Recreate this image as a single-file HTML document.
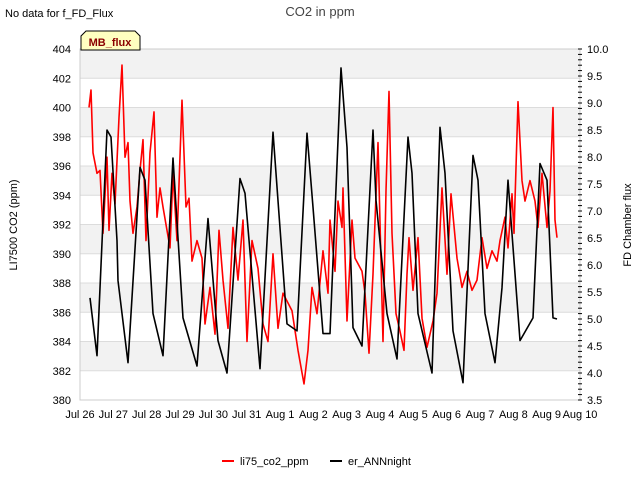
<!DOCTYPE html>
<html><head><meta charset="utf-8"><style>
body{margin:0;background:#fff}
svg{display:block;font-family:"Liberation Sans","DejaVu Sans",sans-serif}
</style></head><body>
<svg id="chart" width="640" height="480" viewBox="0 0 640 480">
<rect width="640" height="480" fill="#fff"/>
<text x="320" y="16" text-anchor="middle" font-size="13" fill="#444">CO2 in ppm</text>
<text x="5" y="17" font-size="11" fill="#000">No data for f_FD_Flux</text>
<g id="bands"></g>
<g id="grid"></g>
<rect x="80" y="49" width="500" height="351" fill="none" stroke="#ccc"/>
<g id="axes"></g>
<g id="series"></g>
<g>
<path d="M81,50 L81,36 L86,31 L135,31 L140,36 L140,50 Z" fill="#ffffc0" stroke="#000" stroke-width="1"/>
<text x="110" y="46" text-anchor="middle" font-size="11" font-weight="bold" fill="#8b0000">MB_flux</text>
</g>
<text transform="translate(17,225) rotate(-90)" text-anchor="middle" font-size="11">LI7500 CO2 (ppm)</text>
<text transform="translate(631,225) rotate(-90)" text-anchor="middle" font-size="11">FD Chamber flux</text>
<g>
<g><line x1="222" y1="461" x2="234" y2="461" stroke="#f00" stroke-width="2"/><text x="240" y="465" font-size="11">li75_co2_ppm</text></g>
<g><line x1="330" y1="461" x2="342" y2="461" stroke="#000" stroke-width="2"/><text x="348" y="465" font-size="11">er_ANNnight</text></g>
</g>
</svg>
<script>
const xLabels=["Jul 26","Jul 27","Jul 28","Jul 29","Jul 30","Jul 31","Aug 1","Aug 2","Aug 3","Aug 4","Aug 5","Aug 6","Aug 7","Aug 8","Aug 9","Aug 10"];
const leftTicks=[380,382,384,386,388,390,392,394,396,398,400,402,404];
const rightTicks=[3.5,4.0,4.5,5.0,5.5,6.0,6.5,7.0,7.5,8.0,8.5,9.0,9.5,10.0];
const redDays=[.27,.33,.39,.51,.60,.69,.81,.87,.96,1.05,1.17,1.26,1.35,1.44,1.50,1.59,1.71,1.80,1.89,1.98,2.10,2.22,2.31,2.40,2.49,2.70,2.79,2.91,3.06,3.18,3.27,3.36,3.51,3.66,3.75,3.90,4.05,4.17,4.29,4.44,4.59,4.74,4.89,5.01,5.16,5.34,5.49,5.64,5.79,5.94,6.09,6.36,6.54,6.72,6.84,6.96,7.11,7.29,7.44,7.50,7.65,7.74,7.86,7.89,8.01,8.16,8.25,8.46,8.55,8.67,8.79,8.94,9.09,9.18,9.27,9.36,9.48,9.60,9.72,9.81,9.87,9.99,10.14,10.26,10.41,10.59,10.71,10.86,11.01,11.13,11.31,11.46,11.61,11.76,11.91,12.06,12.21,12.36,12.51,12.60,12.75,12.84,12.96,13.02,13.14,13.26,13.35,13.50,13.65,13.74,13.86,14.01,14.10,14.19,14.25,14.31];
const redVals=[400.0,401.2,396.9,395.5,395.7,391.4,396.6,391.6,395.5,393.4,399.3,402.9,396.6,397.6,393.6,391.4,393.2,395.7,397.8,390.9,396.9,399.7,392.5,394.5,393.2,390.4,395.5,390.9,400.5,393.2,393.8,389.5,390.9,389.7,385.2,387.7,384.5,391.6,388.2,384.9,391.8,388.2,392.3,384.0,390.9,389.0,385.2,384.0,390.0,384.9,387.3,386.1,383.4,381.1,383.4,387.7,385.9,390.2,387.3,392.3,388.8,393.6,391.8,394.5,385.4,392.3,389.7,388.8,387.3,383.2,388.6,397.6,384.0,394.3,401.1,391.4,385.9,384.7,383.4,388.6,391.1,387.5,391.1,385.6,383.6,385.4,387.3,394.5,388.6,394.1,389.7,387.7,388.8,387.5,388.2,391.1,389.0,390.2,389.5,390.9,392.5,390.4,394.1,391.4,400.4,395.0,393.6,395.0,393.6,391.8,395.5,391.8,394.3,400.0,392.3,391.1];
const annDays=[.30,.51,.81,.93,1.11,1.14,1.44,1.80,1.95,2.19,2.49,2.79,3.09,3.51,3.84,4.14,4.41,4.80,4.95,5.40,5.79,6.21,6.51,6.81,6.99,7.29,7.50,7.83,8.01,8.19,8.46,8.79,8.88,9.21,9.51,9.84,9.96,10.14,10.56,10.80,10.95,11.19,11.49,11.79,11.94,12.15,12.45,12.66,12.84,13.20,13.59,13.80,14.01,14.19,14.31];
const annVals=[5.39,4.32,8.50,8.37,6.45,5.71,4.19,7.81,7.57,5.10,4.32,7.98,5.02,4.13,6.86,4.60,4.00,7.60,7.33,4.08,8.46,4.91,4.78,8.44,7.07,4.73,4.73,9.65,8.18,4.84,4.50,8.50,7.20,5.10,4.26,8.37,7.70,5.10,4.00,8.55,7.70,4.78,3.82,8.03,7.57,5.10,4.19,5.58,7.57,4.60,5.02,7.88,7.57,5.02,5.00];
const X0=80,X1=580,YT=49,YB=400;
const xs=d=>X0+d*(X1-X0)/15;
const yl=v=>YB-(v-380)*(YB-YT)/24;
const yr=v=>YB-(v-3.5)*(YB-YT)/6.5;
const NS="http://www.w3.org/2000/svg";
function mk(tag,attrs,parent){const e=document.createElementNS(NS,tag);for(const k in attrs)e.setAttribute(k,attrs[k]);parent.appendChild(e);return e;}
const bands=document.getElementById('bands'),grid=document.getElementById('grid'),axes=document.getElementById('axes'),series=document.getElementById('series');
for(let i=0;i<leftTicks.length-1;i++){
  if(i%2===1){const b=mk('rect',{x:X0,y:yl(leftTicks[i+1]),width:X1-X0,height:yl(leftTicks[i])-yl(leftTicks[i+1]),fill:'#f2f2f2'},bands);
  
  }
}
leftTicks.forEach(v=>{
  const l=mk('line',{x1:X0,x2:X1,y1:yl(v),y2:yl(v),stroke:'#dcdcdc'},grid);
  
  
  const t=mk('text',{x:71,y:yl(v)+4,'text-anchor':'end','font-size':11},axes);t.textContent=v;
  
  
});
rightTicks.forEach(v=>{
  const t=mk('text',{x:587,y:yr(v)+4,'font-size':11},axes);t.textContent=v.toFixed(1);
  
  
});
for(let v=3.5;v<=10.001;v+=0.1){const m=mk('line',{x1:X1-2,x2:X1+2,y1:yr(v),y2:yr(v),stroke:'#000','stroke-width':1},axes);
  
  }
xLabels.forEach((s,i)=>{
  const t=mk('text',{x:xs(i),y:418,'text-anchor':'middle','font-size':11},axes);t.textContent=s;
  
  
});
const redPath=mk('path',{d:redDays.map((d,i)=>(i?'L':'M')+xs(d).toFixed(1)+','+yl(redVals[i]).toFixed(1)).join(''),fill:'none',stroke:'#f00','stroke-width':1.6,'stroke-linejoin':'round'},series);


const annPath=mk('path',{d:annDays.map((d,i)=>(i?'L':'M')+xs(d).toFixed(1)+','+yr(annVals[i]).toFixed(1)).join(''),fill:'none',stroke:'#000','stroke-width':1.6,'stroke-linejoin':'round'},series);


</script>
</body></html>
